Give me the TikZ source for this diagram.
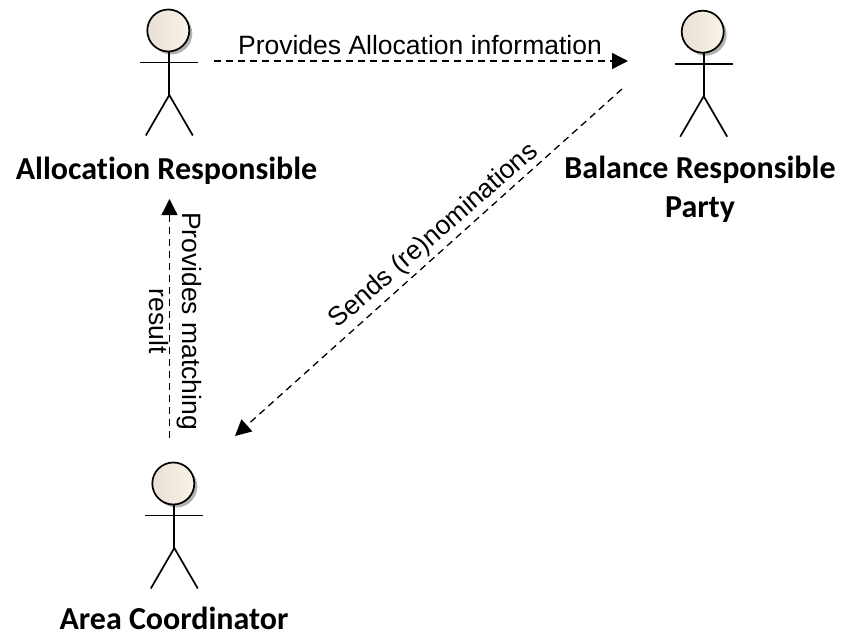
\documentclass[tikz,border=0pt]{standalone}
\usepackage{fontspec}
\setmainfont{Carlito}[Ligatures=NoCommon]
\newfontfamily\lab{Liberation Sans}
\usetikzlibrary{arrows.meta}
\definecolor{headfill}{RGB}{250,243,232}
\definecolor{headedge}{RGB}{232,224,212}
\tikzset{
  x=1pt,y=-1pt,
  limb/.style={draw=black,line width=1.7pt,line cap=butt},
  flow/.style={draw=black,line width=1.3pt,dash pattern=on 7pt off 5pt,-{Triangle[length=16pt,width=16pt]}},
  actorname/.style={font=\bfseries\fontsize{32}{39}\selectfont,align=center,inner sep=0pt},
  flowlabel/.style={font=\lab\fontsize{26.5}{33}\selectfont,align=center,inner sep=0pt,text=black},
  pics/actor/.style={code={
    \fill[black!30] (3,3) circle[radius=21];
    \shadedraw[left color=headedge,right color=headfill,draw=black,line width=1.7pt] (0,0) circle[radius=21];
    \draw[limb] (1,21) -- (1,64.5);
    \draw[limb] (-28,32) -- (30,32);
    \draw[limb] (-22.5,105) -- (1,64.5) -- (24.5,105);
  }}
}
\begin{document}
\begin{tikzpicture}
\useasboundingbox (0,0) rectangle (841,632);
\pic at (168.3,30.5) {actor};
\pic at (702.7,31.7) {actor};
\pic at (173.3,483.5) {actor};
\node[actorname] (alloc) at (166.5,171) {Allocation Responsible};
\node[actorname] (balance) at (700,189.5) {Balance Responsible\\Party};
\node[actorname,anchor=base] (area) at (174,629) {Area Coordinator};
\coordinate (a1) at (214,61);
\coordinate (b1) at (628,61);
\coordinate (b2) at (622,89);
\coordinate (c2) at (235,436);
\coordinate (c1) at (169.5,438);
\coordinate (a2) at (169.5,199);
\draw[flow] (a1) -- (b1);
\draw[flow] (b2) -- (c2);
\draw[flow] (c1) -- (a2);
\node[flowlabel] (l1) at (420,45) {Provides Allocation information};
\node[flowlabel,rotate=41] (l2) at (434,236) {Sends (re)nominations};
\node[flowlabel,rotate=-90] (l3) at (175,321) {Provides matching\\result};
\end{tikzpicture}
\end{document}
